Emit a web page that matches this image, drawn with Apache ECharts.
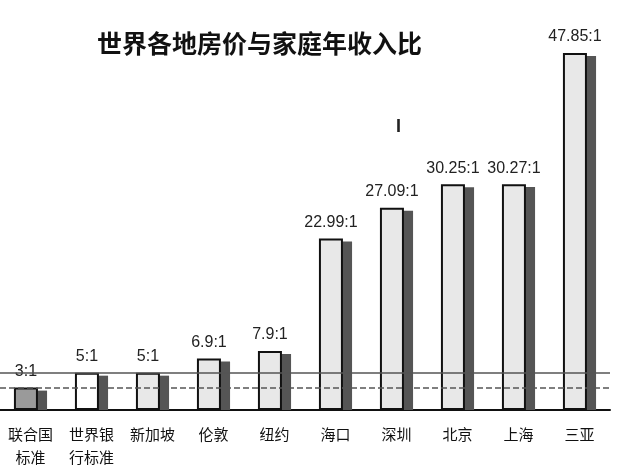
<!DOCTYPE html>
<html><head><meta charset="utf-8">
<script src="https://cdn.jsdelivr.net/npm/echarts@6/dist/echarts.min.js"></script>
<style>html,body{margin:0;background:#fff}#c{width:638px;height:474px}</style>
</head><body><div id="c"></div>
<script>
var cities = ['联合国\n标准', '世界银\n行标准', '新加坡', '伦敦', '纽约', '海口', '深圳', '北京', '上海', '三亚'];
var ratios = [3, 5, 5, 6.9, 7.9, 22.99, 27.09, 30.25, 30.27, 47.85];
var labels = ['3:1', '5:1', '5:1', '6.9:1', '7.9:1', '22.99:1', '27.09:1', '30.25:1', '30.27:1', '47.85:1'];

var chart = echarts.init(document.getElementById('c'));
var fills = ratios.map(function (v, i) {
  return { value: v, itemStyle: { color: i == 0 ? '#9a9a9a' : (i == 1 ? '#ffffff' : '#e8e8e8') } };
});
chart.setOption({
  animation: false,
  title: {
    text: '世界各地房价与家庭年收入比', left: 92, top: 26,
    textStyle: { fontFamily: 'Noto Sans CJK SC', fontSize: 25, fontWeight: 'bold', color: '#111' }
  },
  graphic: [{ type: 'text', left: 396, top: 118, style: { text: 'I', font: 'bold 18px Liberation Sans', fill: '#222' } }],
  grid: { left: -4, right: 28, top: 22, bottom: 64 },
  xAxis: {
    type: 'category', data: cities,
    axisLine: { lineStyle: { color: '#111', width: 2 } },
    axisTick: { show: false },
    axisLabel: { interval: 0, color: '#111', fontSize: 15, lineHeight: 23, margin: 13, fontFamily: 'Noto Sans CJK SC' }
  },
  yAxis: { type: 'value', min: 0, max: 52, show: false, splitLine: { show: false } },
  series: [{
    type: 'bar', data: fills, barWidth: 24, z: 3,
    itemStyle: { borderColor: '#111', borderWidth: 2 },
    label: {
      show: true, position: 'top', distance: 8, color: '#222', fontSize: 16, fontFamily: 'Liberation Sans',
      formatter: function (p) { return labels[p.dataIndex]; }
    },
    markLine: {
      symbol: 'none', silent: true, label: { show: false },
      data: [
        { yAxis: 3, lineStyle: { type: 'dashed', color: '#555', width: 1.5 } },
        { yAxis: 5, lineStyle: { type: 'solid', color: '#555', width: 1.5 } }
      ]
    }
  }, {
    type: 'bar', data: ratios.map(function (v) { return v - 0.4; }), barWidth: 24, barGap: '-62%', z: 2,
    itemStyle: { color: '#555' }
  }]
});
</script></body></html>
